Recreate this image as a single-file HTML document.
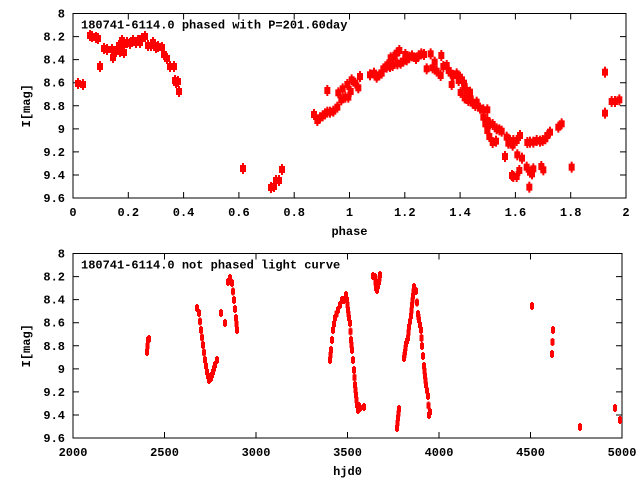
<!DOCTYPE html>
<html><head><meta charset="utf-8"><style>
body{margin:0;background:#fff}
svg{display:block}
text{font-family:"Liberation Mono","DejaVu Sans Mono",monospace;font-weight:bold;font-size:12px;fill:#000}
</style></head><body>
<svg id="s" width="640" height="480" xmlns="http://www.w3.org/2000/svg">
<rect width="640" height="480" fill="#fff"/>
<g id="ax" stroke="#000" stroke-width="1" fill="none"></g>
<g id="tx"></g>
<g id="pts" fill="#f00"></g>
</svg>
<script>
(function(){
var NS="http://www.w3.org/2000/svg";
function el(p,t,a,txt){var e=document.createElementNS(NS,t);for(var k in a)e.setAttribute(k,a[k]);if(txt!=null)e.textContent=txt;document.getElementById(p).appendChild(e);}
var P=[{l:73,r:626,t:13.5,b:198,xs:0,xe:2,xt:[0,0.2,0.4,0.6,0.8,1,1.2,1.4,1.6,1.8,2],xl:"phase",ti:"180741-6114.0 phased with P=201.60day"},
{l:73,r:622,t:253.5,b:438,xs:2000,xe:5000,xt:[2000,2500,3000,3500,4000,4500,5000],xl:"hjd0",ti:"180741-6114.0 not phased light curve"}];
var yt=["8","8.2","8.4","8.6","8.8","9","9.2","9.4","9.6"];
P.forEach(function(p){
 el("ax","rect",{x:p.l,y:p.t,width:p.r-p.l,height:p.b-p.t});
 for(var i=0;i<9;i++){var y=p.t+(p.b-p.t)*i/8;
  el("ax","path",{d:"M"+p.l+" "+y+"h6M"+p.r+" "+y+"h-6"});
  el("tx","text",{x:p.l-8,y:y+4,"text-anchor":"end"},yt[i]);}
 p.xt.forEach(function(v){var x=p.l+(p.r-p.l)*(v-p.xs)/(p.xe-p.xs);
  el("ax","path",{d:"M"+x+" "+p.b+"v-6M"+x+" "+p.t+"v6"});
  el("tx","text",{x:x,y:p.b+18,"text-anchor":"middle"},String(v));});
 el("tx","text",{x:(p.l+p.r)/2,y:p.b+37,"text-anchor":"middle"},p.xl);
 el("tx","text",{x:p.l+8,y:p.t+15},p.ti);
 el("tx","text",{x:0,y:0,transform:"translate(30,"+((p.t+p.b)/2)+") rotate(-90)","text-anchor":"middle"},"I[mag]");
});
function big(x,y){el("pts","rect",{x:x-3,y:y-3,width:6,height:7});el("pts","rect",{x:x-1,y:y-5,width:2,height:11});}
function sm(x,y){el("pts","rect",{x:x-2,y:y-3,width:4,height:6});el("pts","rect",{x:x-1,y:y-4,width:2,height:8});}
var topPts=[[78,83],[83,84],[90,35],[96,37],[92,36],[98,38],[100,66],[104,48],[107,49],[112,49],[113,57],[116,51],[120,51],[124,52],[119,45],[122,40],[124,44],[127,42],[130,43],[133,40],[136,42],[138,40],[140,42],[142,38],[145,36],[148,45],[151,45],[153,42],[156,47],[158,46],[162,47],[164,54],[167,58],[170,66],[174,66],[176,82],[178,81],[175,80],[179,91],[243,168],[271,187],[274,186],[276,180],[279,180],[282,169]];
topPts.forEach(function(q){big(q[0],q[1]);});
var z=[[42,252],[52,270],[60,262],[68,256],[75,250],[82,245],[90,245],[100,242],[112,230],[82,180],[115,187],[124,208],[128,175],[136,200],[145,200],[142,162],[152,183],[155,148],[166,158],[175,172],[180,138],[210,133],[222,128],[230,140],[238,133],[245,128],[250,115],[260,110],[262,103],[270,108],[278,105],[272,82],[280,80],[290,68],[298,60],[292,100],[302,98],[310,92],[316,72],[320,88],[328,80],[336,76],[348,84],[356,76],[364,70],[372,72],[380,115],[392,70],[398,112],[404,95],[410,122],[422,135],[424,75],[430,108],[440,105],[446,120],[452,128],[455,162],[460,135],[470,130],[476,150],[480,140],[486,148],[492,158],[494,168],[482,186],[500,180],[510,185],[494,202],[505,210],[512,205],[518,218],[526,225],[530,215],[540,233],[550,238],[562,238],[550,260],[556,280],[562,270],[570,280],[578,282],[562,300],[568,318],[578,336],[588,332],[590,295],[598,298],[605,302],[615,378],[620,320],[625,338],[630,330],[640,330],[638,344],[650,330],[660,315],[652,373],[666,383],[680,410],[690,425],[700,415],[696,430],[636,435],[640,438],[650,438],[658,420],[688,470],[682,336],[690,335],[700,335],[710,330],[720,332],[728,330],[736,325],[742,315],[750,305],[775,290],[785,280],[724,408],[730,418],[815,410],[915,125],[915,248],[935,213],[945,213],[958,208]];
z.forEach(function(q){big(300+q[0]/3,30+q[1]/3);});
var bot=[[147,352],[148,340],[149,339],[197,308],[199,313],[201,330],[203,345],[205,360],[207,372],[209,380],[211,378],[213,372],[215,365],[217,360],[221,313],[225,323],[228,282],[230,278],[232,283],[234,300],[236,318],[237,330],
[330,360],[331,350],[333,330],[335,318],[338,310],[340,305],[342,300],[344,300],[346,295],[347,300],[348,310],[349,318],[350,323],[351,340],[352,350],[354,370],[355,385],[356,395],[357,405],[358,410],[359,406],[360,408],[364,407],
[373,276],[375,277],[376,288],[377,290],[379,282],[380,275],[397,428],[398,418],[399,409],
[404,358],[405,352],[406,344],[408,338],[409,327],[411,316],[412,305],[413,296],[414,287],[416,291],[418,314],[419,320],[421,330],[422,346],[424,366],[425,376],[426,385],[428,396],[429,415],[430,412],
[532,306],[553,330],[552,354],[580,427],[615,408],[620,420]];
for(var i=0;i<bot.length;i++){var a=bot[i];sm(a[0],a[1]);
 if(i<bot.length-1){var b=bot[i+1];if(Math.abs(b[0]-a[0])<4&&Math.abs(b[1]-a[1])<25&&Math.abs(b[1]-a[1])>5){sm((a[0]+b[0])/2,(a[1]+b[1])/2);}}}
})();
</script>
</body></html>
